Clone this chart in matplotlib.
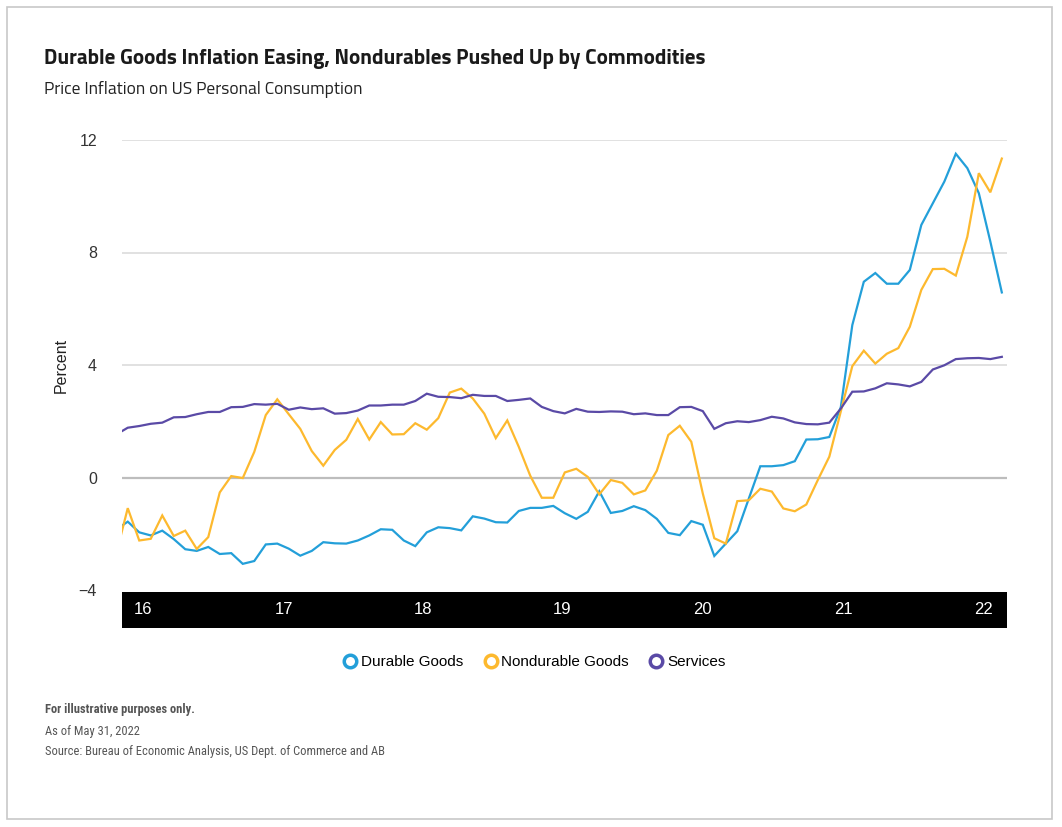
import numpy as np
import matplotlib
matplotlib.use("Agg")
import matplotlib.pyplot as plt
from matplotlib.lines import Line2D
from matplotlib.patches import Rectangle

# monthly data, Nov 2015 .. Apr 2022 (percent)
durable = [-1.85, -1.57, -1.95, -2.06, -1.89, -2.19, -2.55, -2.61, -2.47, -2.72,
           -2.69, -3.07, -2.97, -2.38, -2.35, -2.53, -2.78, -2.61, -2.30, -2.34,
           -2.35, -2.24, -2.06, -1.84, -1.86, -2.24, -2.44, -1.95, -1.77, -1.80,
           -1.88, -1.38, -1.46, -1.59, -1.60, -1.19, -1.08, -1.08, -1.01, -1.27,
           -1.47, -1.22, -0.49, -1.26, -1.19, -1.02, -1.16, -1.47, -1.97, -2.05,
           -1.55, -1.68, -2.79, -2.35, -1.91, -0.75, 0.40, 0.40, 0.44, 0.58,
           1.35, 1.36, 1.44, 2.50, 5.42, 6.96, 7.27, 6.89, 6.89, 7.38,
           8.98, 9.75, 10.52, 11.51, 11.00, 10.11, 8.39, 6.58]
nondurable = [-2.71, -1.09, -2.24, -2.18, -1.35, -2.08, -1.89, -2.54, -2.12, -0.53,
              0.05, -0.02, 0.91, 2.22, 2.78, 2.25, 1.73, 0.94, 0.42, 0.98,
              1.34, 2.08, 1.35, 1.97, 1.53, 1.54, 1.93, 1.70, 2.11, 3.02,
              3.16, 2.81, 2.27, 1.40, 2.03, 1.09, 0.06, -0.72, -0.72, 0.18,
              0.31, 0.02, -0.60, -0.09, -0.19, -0.60, -0.46, 0.24, 1.51, 1.84,
              1.27, -0.57, -2.16, -2.35, -0.84, -0.81, -0.40, -0.50, -1.10, -1.20,
              -0.96, -0.09, 0.74, 2.35, 3.96, 4.51, 4.05, 4.40, 4.60, 5.36,
              6.67, 7.41, 7.42, 7.18, 8.56, 10.82, 10.14, 11.34]
services = [1.53, 1.77, 1.83, 1.91, 1.95, 2.14, 2.15, 2.25, 2.33, 2.33,
            2.50, 2.51, 2.61, 2.59, 2.62, 2.41, 2.49, 2.43, 2.46, 2.27,
            2.29, 2.38, 2.56, 2.56, 2.59, 2.59, 2.72, 2.98, 2.87, 2.86,
            2.82, 2.94, 2.90, 2.90, 2.72, 2.76, 2.81, 2.51, 2.36, 2.28,
            2.44, 2.34, 2.33, 2.35, 2.34, 2.25, 2.28, 2.22, 2.22, 2.50,
            2.51, 2.36, 1.73, 1.93, 2.00, 1.97, 2.04, 2.16, 2.10, 1.96,
            1.90, 1.89, 1.95, 2.45, 3.05, 3.06, 3.17, 3.35, 3.31, 3.24,
            3.40, 3.84, 3.99, 4.21, 4.24, 4.25, 4.21, 4.29]

series_names = ["Durable Goods", "Nondurable Goods", "Services"]
colors = ["#239fd9", "#fdb92e", "#5a4aa6"]
year_labels = ["16", "17", "18", "19", "20", "21", "22"]
year_pos = [2.3, 14.6, 26.7, 38.8, 51.0, 63.2, 75.4]

head_font = ["Titillium Web", "DejaVu Sans"]
foot_font = ["Roboto Condensed", "DejaVu Sans"]
plt.rcParams["font.family"] = ["Liberation Sans", "DejaVu Sans"]

W, H = 1062, 827
fig = plt.figure(figsize=(W / 100, H / 100), dpi=100)

def fx(px):
    return px / W

def fy(py):
    return 1 - py / H

ax = fig.add_axes([fx(122), fy(590), fx(1007) - fx(122), fy(140) - fy(590)])
x = np.arange(len(durable))
for vals, c in zip([durable, nondurable, services], colors):
    ax.plot(x, vals, color=c, lw=1.6, zorder=3, solid_joinstyle="miter")

ax.set_xlim(0.5, 77.45)
ax.set_ylim(-4, 12)
ax.set_yticks([-4, 0, 4, 8, 12])
ax.set_yticklabels(["\u22124", "0", "4", "8", "12"])
for v in [4, 8, 12]:
    ax.axhline(v, color="#dcdcdc", lw=1.2, zorder=1)
ax.axhline(0, color="#bdbdbd", lw=1.6, zorder=1)
for s in ax.spines.values():
    s.set_visible(False)
ax.tick_params(axis="y", length=0, pad=18, labelsize=11.5, labelcolor="#333333")
ax.set_xticks([])
ax.set_ylabel("Percent", fontsize=11.5, color="#222222", labelpad=7)

# black year band
bax = fig.add_axes([fx(122), fy(628), fx(1007) - fx(122), fy(592) - fy(628)])
bax.set_facecolor("black")
bax.set_xlim(ax.get_xlim())
bax.set_ylim(0, 1)
bax.set_xticks([])
bax.set_yticks([])
for s in bax.spines.values():
    s.set_visible(False)
for p, lab in zip(year_pos, year_labels):
    bax.text(p, 0.5, lab, color="white", fontsize=12, ha="center", va="center")

# titles
fig.text(fx(44), fy(59), "Durable Goods Inflation Easing, Nondurables Pushed Up by Commodities",
         family=head_font, fontweight="bold", fontsize=15.2, color="#1a1a1a", va="center")
fig.text(fx(44), fy(90), "Price Inflation on US Personal Consumption",
         family=head_font, fontsize=12.5, color="#222222", va="center")

# legend
handles = [Line2D([], [], color=c, marker="o", lw=0, markersize=9,
                  markerfacecolor="white", markeredgewidth=2.5) for c in colors]
fig.legend(handles, series_names, loc="center", bbox_to_anchor=(fx(534), fy(662)),
           ncol=3, frameon=False, fontsize=11, handletextpad=0.2,
           columnspacing=1.3, handlelength=1.0)

# footer
fig.text(fx(45), fy(710), "For illustrative purposes only.", family=foot_font,
         fontweight="bold", fontsize=9, color="#555555", va="center")
fig.text(fx(45), fy(732), "As of May 31, 2022", family=foot_font,
         fontsize=9, color="#555555", va="center")
fig.text(fx(45), fy(752), "Source: Bureau of Economic Analysis, US Dept. of Commerce and AB",
         family=foot_font, fontsize=9, color="#555555", va="center")

# outer frame
fig.patches.append(Rectangle((fx(7), fy(819)), fx(1052) - fx(7), fy(7) - fy(819),
                             transform=fig.transFigure, fill=False,
                             edgecolor="#c8c8c8", lw=1.2))

fig.savefig("out.png", dpi=100)
